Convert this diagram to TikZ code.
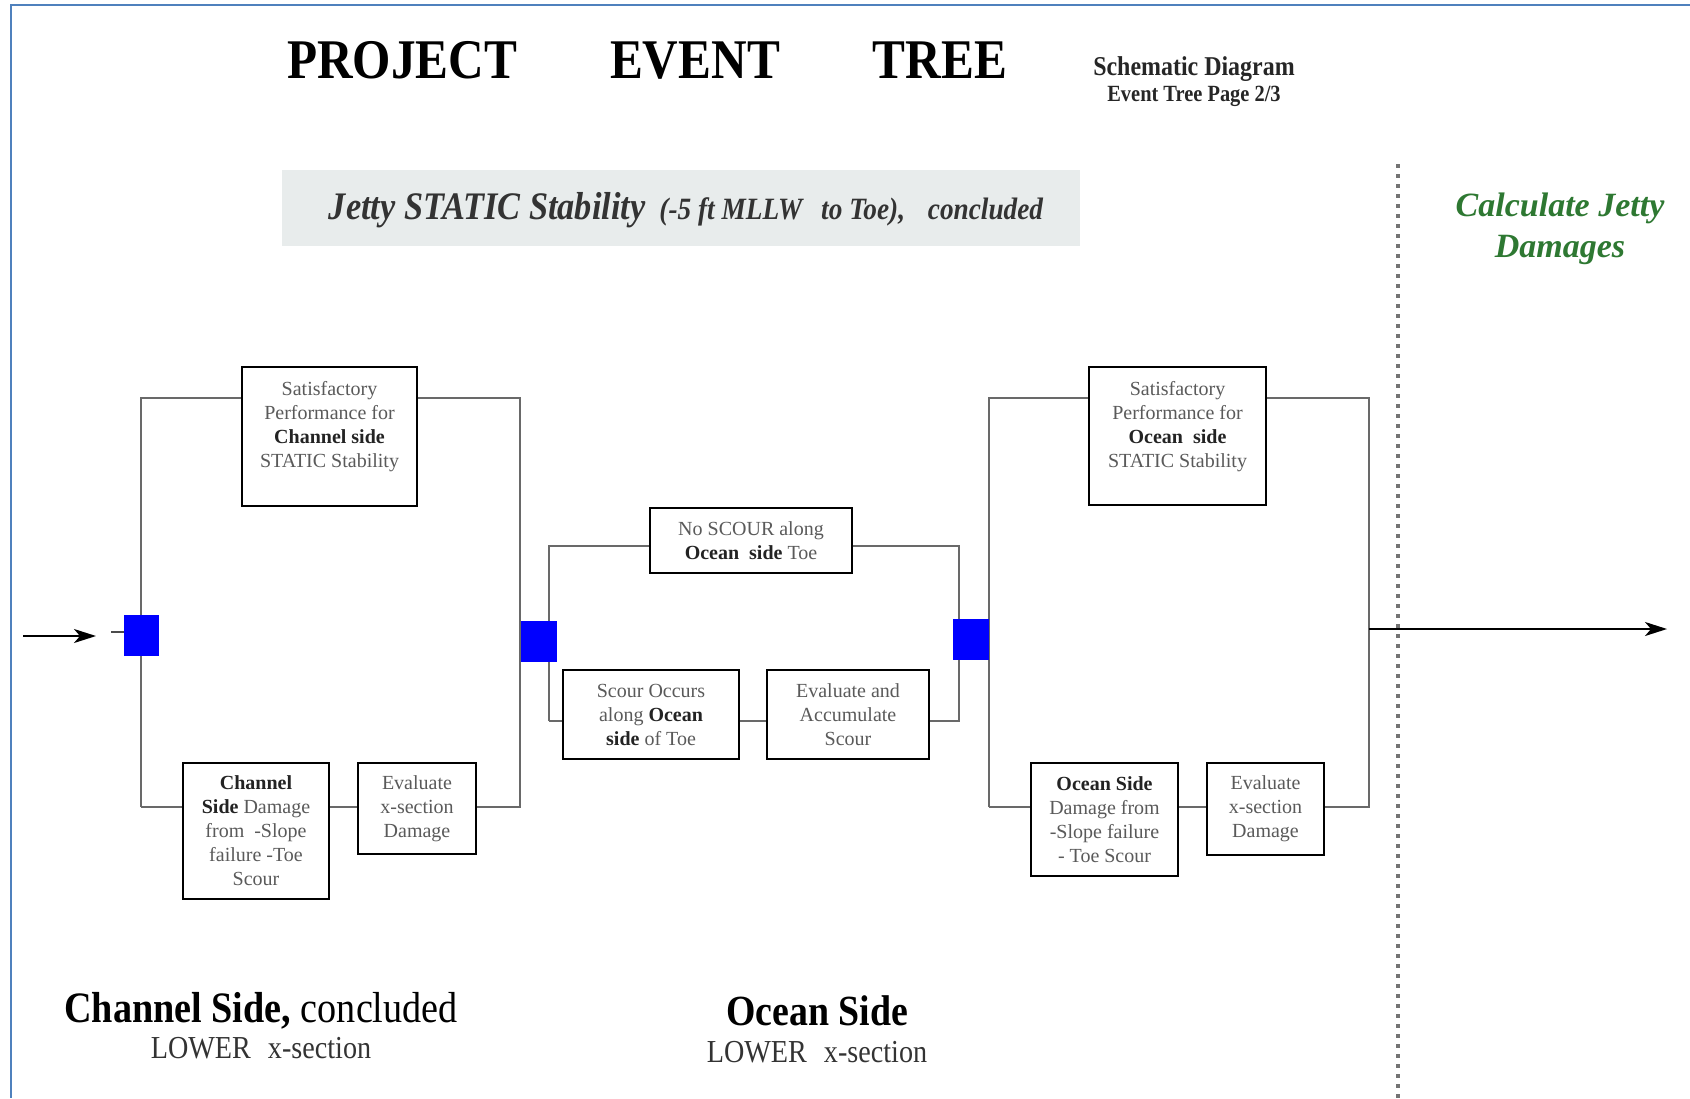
\documentclass[tikz,border=0pt]{standalone}
\usepackage{fontspec}
\setmainfont{Liberation Serif}
\newfontfamily\cond{Liberation Serif}[FakeStretch=0.88]
\usetikzlibrary{arrows.meta}
\definecolor{framecol}{RGB}{79,129,189}
\definecolor{bandgray}{RGB}{232,236,236}
\definecolor{jettygreen}{RGB}{46,120,50}
\definecolor{boxtxt}{RGB}{90,90,90}
\definecolor{boxbold}{RGB}{35,35,35}
\definecolor{wirecol}{RGB}{105,105,105}
\definecolor{dotcol}{RGB}{115,115,115}
\newcommand{\bw}[1]{\textcolor{boxbold}{\bfseries #1}}

\begin{document}
\begin{tikzpicture}[x=0.5pt,y=-0.5pt,
  evbox/.style={draw=black,line width=1.3pt,fill=white,inner sep=0pt,align=center,
    font=\fontsize{10}{12}\selectfont,text=boxtxt},
  boxtext/.style={inner sep=0pt,align=center,font=\fontsize{10}{12}\selectfont,text=boxtxt},
  wire/.style={draw=wirecol,line width=0.75pt},
  gate/.style={fill=blue,inner sep=0pt,minimum width=18pt,minimum height=20.5pt},
  flow/.style={draw=black,line width=1pt,-{Stealth[length=11pt,width=7pt,inset=3pt]}},
  titleword/.style={anchor=base,inner sep=0pt,font=\cond\bfseries\fontsize{28}{30}\selectfont},
]
\useasboundingbox (0,0) rectangle (1690,1098);

% page frame
\draw[framecol,line width=1pt] (1690,5) -- (11,5) -- (11,1098);

% heading
\node[titleword] (tp) at (402,78) {PROJECT};
\node[titleword] (te) at (695,78) {EVENT};
\node[titleword] (tt) at (940,78) {TREE};
\node[anchor=base,inner sep=0pt,font=\cond\bfseries\fontsize{13.6}{15}\selectfont,text=black!85] (sd) at (1194,75) {Schematic Diagram};
\node[anchor=base,inner sep=0pt,font=\cond\bfseries\fontsize{11.6}{13}\selectfont,text=black!85] (pg) at (1194,101) {Event Tree Page 2/3};

% banner
\node[fill=bandgray,inner sep=0pt,minimum width=399pt,minimum height=38pt] (band) at (681,208) {};
\node[anchor=base,inner sep=0pt,text=black!80] (bandtxt) at (686,219)
  {\cond\bfseries\itshape\fontsize{19.5}{21}\selectfont Jetty STATIC Stability\hspace{7pt}%
   \fontsize{15.5}{17}\selectfont(-5 ft MLLW\hspace{6pt} to Toe),\hspace{8pt} concluded};

% stage separator
\coordinate (dv1) at (1398,164);
\coordinate (dv2) at (1398,1098);
\draw[dotcol,line width=2pt,dash pattern=on 2pt off 3pt] (dv1) -- (dv2);
\node[align=center,inner sep=0pt,text=jettygreen,font=\bfseries\itshape\fontsize{17}{20.5}\selectfont] (calc) at (1560,229)
  {Calculate Jetty\\Damages};

% ---- event boxes ----
\node[evbox,minimum width=87.5pt,minimum height=69.5pt] (A) at (329.5,436.5) {};
\node[boxtext] (At) at (329.5,427) {Satisfactory\\Performance for\\\bw{Channel side}\\STATIC Stability};
\node[evbox,minimum width=73pt,minimum height=68pt] (B) at (256,831)
  {\bw{Channel}\\\bw{Side} Damage\\from\ \ -Slope\\failure -Toe\\Scour};
\node[evbox,minimum width=59pt,minimum height=45.5pt] (C) at (417,808.5) {Evaluate\\x-section\\Damage};

\node[evbox,minimum width=101pt,minimum height=32.5pt] (D) at (751,540.5) {No SCOUR along\\\bw{Ocean\ \ side} Toe};
\node[evbox,minimum width=88pt,minimum height=44.5pt] (E) at (651,714.5) {Scour Occurs\\along \bw{Ocean}\\\bw{side} of Toe};
\node[evbox,minimum width=81pt,minimum height=44.5pt] (F) at (848,714.5) {Evaluate and\\Accumulate\\Scour};

\node[evbox,minimum width=88.5pt,minimum height=69pt] (G) at (1177.5,436) {};
\node[boxtext] (Gt) at (1177.5,427) {Satisfactory\\Performance for\\\bw{Ocean\ \ side}\\STATIC Stability};
\node[evbox,minimum width=73.5pt,minimum height=56.5pt] (H) at (1104.5,819.5) {\bw{Ocean Side}\\Damage from\\-Slope failure\\- Toe Scour};
\node[evbox,minimum width=58.5pt,minimum height=46pt] (I) at (1265.5,809) {Evaluate\\x-section\\Damage};

% ---- branch corners ----
\coordinate (L1tl) at (141,398);  \coordinate (L1tr) at (520,398);
\coordinate (L1bl) at (141,807);  \coordinate (L1br) at (520,807);
\coordinate (M1tl) at (549,546);  \coordinate (M1tr) at (959,546);
\coordinate (M1bl) at (549,721);  \coordinate (M1br) at (959,721);
\coordinate (R1tl) at (989,398);  \coordinate (R1tr) at (1369,398);
\coordinate (R1bl) at (989,807);  \coordinate (R1br) at (1369,807);

% channel side branches
\draw[wire] (L1bl) -- (L1tl) -- (A.west |- L1tl);
\draw[wire] (A.east |- L1tr) -- (L1tr) -- (L1br) -- (C.east |- L1br);
\draw[wire] (L1bl) -- (B.west |- L1bl);
\draw[wire] (B.east |- L1bl) -- (C.west |- L1bl);

% scour branches
\draw[wire] (M1bl) -- (M1tl) -- (D.west |- M1tl);
\draw[wire] (D.east |- M1tr) -- (M1tr) -- (M1br) -- (F.east |- M1br);
\draw[wire] (M1bl) -- (E.west |- M1bl);
\draw[wire] (E.east |- M1bl) -- (F.west |- M1bl);

% ocean side branches
\draw[wire] (R1bl) -- (R1tl) -- (G.west |- R1tl);
\draw[wire] (G.east |- R1tr) -- (R1tr) -- (R1br) -- (I.east |- R1br);
\draw[wire] (R1bl) -- (H.west |- R1bl);
\draw[wire] (H.east |- R1bl) -- (I.west |- R1bl);

% branch points
\node[gate,minimum width=17.5pt] (S1) at (141.5,635.5) {};
\node[gate] (S2) at (538.5,641.5) {};
\node[gate] (S3) at (970.5,639.5) {};

% entry and exit
\coordinate (in0) at (23,636);
\coordinate (in1) at (96,636);
\draw[flow] (in0) -- (in1);
\coordinate (stub) at (111,632);
\draw[draw=black!70,line width=1pt] (stub) -- (S1.west |- stub);
\coordinate (Rj) at (1369,629);
\coordinate (out) at (1667,629);
\draw[flow] (Rj) -- (out);

% section captions
\node[anchor=base,inner sep=0pt,font=\cond\fontsize{21.7}{24}\selectfont] (cs) at (261,1022)
  {\textbf{Channel Side,} concluded};
\node[anchor=base,inner sep=0pt,text=black!80,font=\cond\fontsize{16}{18}\selectfont] (cl) at (261,1058)
  {LOWER\hspace{5pt} x-section};
\node[anchor=base,inner sep=0pt,font=\cond\bfseries\fontsize{21.5}{24}\selectfont] (os) at (817,1025)
  {Ocean Side};
\node[anchor=base,inner sep=0pt,text=black!80,font=\cond\fontsize{16}{18}\selectfont] (ol) at (817,1062)
  {LOWER\hspace{5pt} x-section};
\end{tikzpicture}
\end{document}
